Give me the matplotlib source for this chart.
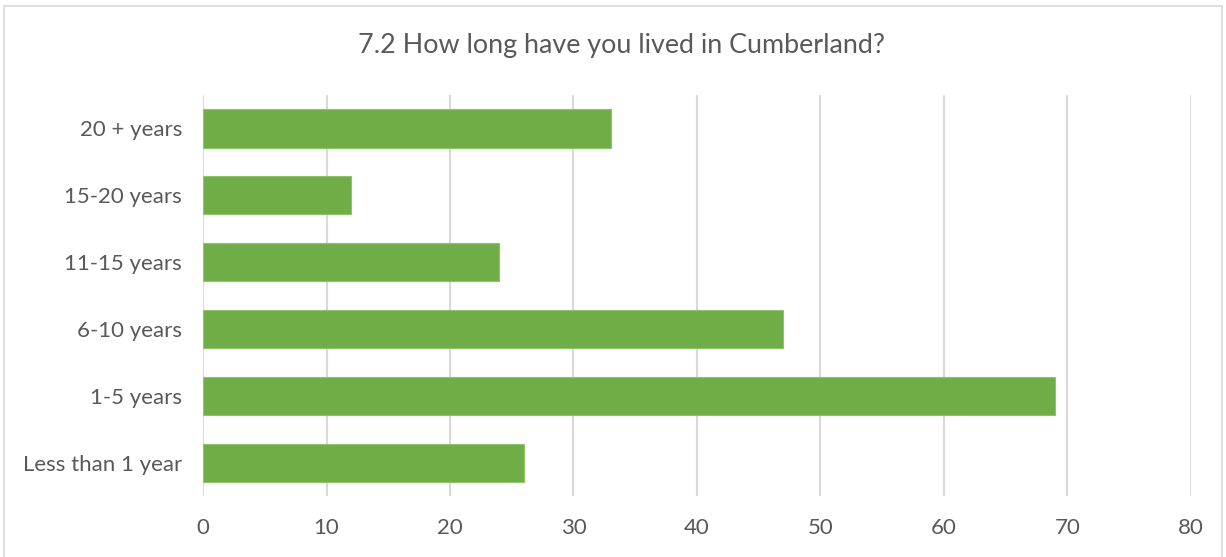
import matplotlib.pyplot as plt
from matplotlib.patches import Rectangle

# Data
# =============================================================================
categories = ['Less than 1 year', '1-5 years', '6-10 years',
              '11-15 years', '15-20 years', '20 + years']
responses = [26, 69, 47, 24, 12, 33]
x_ticks = [0, 10, 20, 30, 40, 50, 60, 70, 80]

title = '7.2 How long have you lived in Cumberland?'

# Style
# =============================================================================
plt.rcParams['font.family'] = ['Lato', 'DejaVu Sans']
text_grey = '#595959'
grid_grey = '#D9D9D9'
bar_green = '#70AD47'

fig = plt.figure(figsize=(12.26, 5.57), dpi=100)
ax = fig.add_axes([0.1656, 0.1095, 0.8058, 0.7199])

ax.barh(range(len(categories)), responses, height=0.571,
        color=bar_green, edgecolor='#8CC46A', linewidth=0.8, zorder=3)

ax.set_xlim(0, 80)
ax.set_ylim(-0.5, len(categories) - 0.5)
ax.set_xticks(x_ticks)
ax.set_yticks(range(len(categories)))
ax.set_yticklabels(categories)

ax.grid(axis='x', color=grid_grey, linewidth=1.5, zorder=0)
for side in ['top', 'right', 'bottom', 'left']:
    ax.spines[side].set_visible(False)

ax.tick_params(axis='both', length=0, labelsize=16, colors=text_grey)
ax.tick_params(axis='y', pad=15)
ax.tick_params(axis='x', pad=16)

fig.text(0.507, 0.918, title, ha='center', va='center',
         fontsize=19.4, color=text_grey)

# light frame around the chart
fig.patches.append(Rectangle((0.003, -0.01), 0.994, 1.0, transform=fig.transFigure,
                             fill=False, edgecolor='#D9D9D9', linewidth=1.2))

fig.savefig('out.png', dpi=100)
